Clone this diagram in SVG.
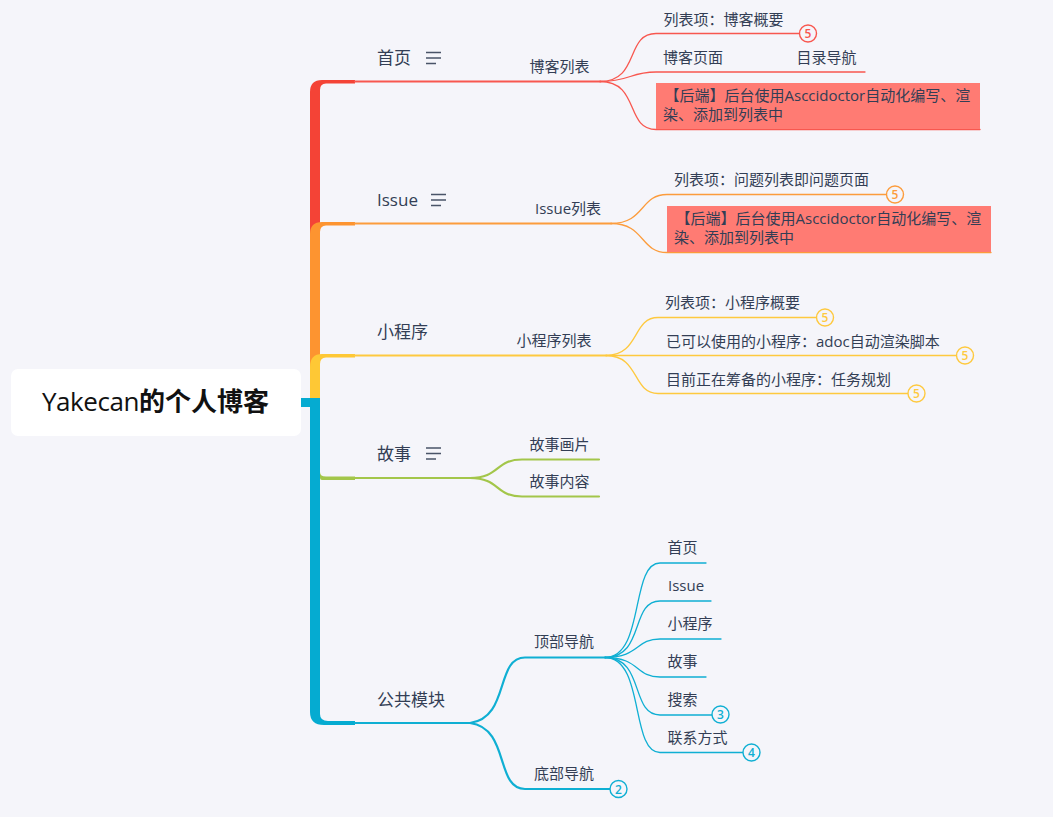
<svg xmlns="http://www.w3.org/2000/svg" width="1053" height="817" viewBox="0 0 1053 817">
<defs><style>
text{font-family:"Open Sans","Noto Sans CJK SC",sans-serif;fill:#333e55}
.l1{font-size:17px}.l2,.l3{font-size:15px}
.root{font-size:26px;fill:#111}
.line{fill:none;stroke-linecap:round}
.red{stroke:#f8574f}.org{stroke:#fc9c3c}.yel{stroke:#fec93f}.grn{stroke:#a3c64a}.blu{stroke:#0fafd3}
.w1{stroke-width:1.3}.w2{stroke-width:2.2}
.badge{fill:#f5f5fa;stroke-width:1.4}
.bt{font-size:12px;text-anchor:middle;font-weight:600}
.note{stroke:none;fill:#ff7b73}
.icon{stroke:#4a5468;stroke-width:1.6;fill:none}
</style></defs>
<rect width="1053" height="817" fill="#f5f5fa"/>
<g id="connectors">
<path fill="#f44336" d="M310 400V92Q310 80 322 80H355V83.500H326Q320 83.500 320 90V400Z"/>
<path fill="#fd9430" d="M310 400V234Q310 222 322 222H355V225.500H326Q320 225.500 320 232V400Z"/>
<path fill="#fec835" d="M310 400V367Q310 354 322 354H355V357.500H326Q320 357.500 320 364V400Z"/>
<path fill="#a3c64a" d="M320 470V472Q320 476.500 326 476.500H355V480H322Q320 480 320 478Z"/>
<path fill="#05abd1" d="M301 398H320V714Q320 721 328 721H355V725H324Q310 725 310 712V407H301Z"/>
<g class="line">
<path class="red w2" d="M355 81.500H600"/>
<path class="org w2" d="M355 223.500H611"/>
<path class="yel w2" d="M355 355.500H606"/>
<path class="grn w2" d="M355 478H470"/>
<path class="blu w2" d="M355 723H470"/>
<path class="grn w2" d="M470 478C500 478 495 459.500 522 459.500H599"/>
<path class="grn w2" d="M470 478C500 478 495 496.500 522 496.500H599"/>
<path class="blu w2" d="M470 723C510 718 495 657.500 525 657.500H605"/>
<path class="blu w2" d="M470 723C510 728 495 789 525 789H610"/>
<path class="red w1" d="M600 81.500C640 81.500 625 33.500 656 33.500H799"/>
<path class="red w1" d="M600 81.500C630 81.500 630 72 656 72H865"/>
<path class="red w1" d="M600 81.500C640 81.500 625 129.500 656 129.500H980"/>
<path class="org w1" d="M611 223.500C645 223.500 640 194.500 667 194.500H886"/>
<path class="org w1" d="M611 223.500C645 223.500 640 252.500 667 252.500H991"/>
<path class="yel w1" d="M606 355.500C640 355.500 632 317.500 658 317.500H816"/>
<path class="yel w1" d="M606 355.500H956"/>
<path class="yel w1" d="M606 355.500C640 355.500 632 393.500 658 393.500H908"/>
<path class="blu w1" d="M605 657.500C645 657.500 630 563 660 563H706"/>
<path class="blu w1" d="M605 657.500C645 657.500 630 601 660 601H711"/>
<path class="blu w1" d="M605 657.500C640 657.500 635 639 660 639H721"/>
<path class="blu w1" d="M605 657.500C640 657.500 635 677 660 677H706"/>
<path class="blu w1" d="M605 657.500C645 657.500 630 715 660 715H712"/>
<path class="blu w1" d="M605 657.500C645 657.500 630 752.500 660 752.500H743"/>
</g>
</g>
<g id="root"><rect x="11" y="369" width="290" height="67" rx="7" fill="#fff"/><text class="root" x="42" y="411"><tspan letter-spacing="-0.45">Yakecan</tspan><tspan font-weight="700">的个人博客</tspan></text></g>
<g id="n-home"><text class="l1" x="377" y="64">首页</text><path class="icon" d="M426 52.500H441M426 58H441M426 63.500H436"/></g>
<g id="n-issue"><text class="l1" x="377" y="206">Issue</text><path class="icon" d="M431 194.500H446M431 200H446M431 205.500H441"/></g>
<g id="n-mini"><text class="l1" x="377" y="338">小程序</text></g>
<g id="n-story"><text class="l1" x="377" y="460">故事</text><path class="icon" d="M426 448H441M426 453.500H441M426 459H436"/></g>
<g id="n-common"><text class="l1" x="377" y="706">公共模块</text></g>
<g id="n-bloglist"><text class="l2" x="529.500" y="72">博客列表</text></g>
<g id="n-issuelist"><text class="l2" x="535" y="214">Issue列表</text></g>
<g id="n-minilist"><text class="l2" x="516.500" y="346">小程序列表</text></g>
<g id="n-pic"><text class="l2" x="529.500" y="450">故事画片</text></g>
<g id="n-content"><text class="l2" x="529.500" y="487">故事内容</text></g>
<g id="n-topnav"><text class="l2" x="534" y="647">顶部导航</text></g>
<g id="n-botnav"><text class="l2" x="534" y="779">底部导航</text></g>
<g id="n-b1"><text class="l3" x="663.500" y="25">列表项：博客概要</text><circle class="badge red" cx="808" cy="33.500" r="8.500"/><text class="bt" x="808" y="38" style="fill:#f8574f">5</text></g>
<g id="n-b2"><text class="l3" x="663" y="63">博客页面</text></g>
<g id="n-b3"><text class="l3" x="796.500" y="63">目录导航</text></g>
<g id="n-b4"><rect class="note" x="656" y="83" width="324" height="46"/><text class="l3" x="664.500" y="101">【后端】后台使用Asccidoctor自动化编写、渲</text><text class="l3" x="663" y="120">染、添加到列表中</text></g>
<g id="n-i1"><text class="l3" x="674" y="185">列表项：问题列表即问题页面</text><circle class="badge org" cx="895" cy="194.500" r="8.500"/><text class="bt" x="895" y="199" style="fill:#fc9c3c">5</text></g>
<g id="n-i2"><rect class="note" x="667" y="206" width="324" height="46"/><text class="l3" x="675.500" y="224">【后端】后台使用Asccidoctor自动化编写、渲</text><text class="l3" x="674" y="243">染、添加到列表中</text></g>
<g id="n-m1"><text class="l3" x="665" y="308">列表项：小程序概要</text><circle class="badge yel" cx="825" cy="317.500" r="8.500"/><text class="bt" x="825" y="322" style="fill:#fec93f">5</text></g>
<g id="n-m2"><text class="l3" x="666" y="347">已可以使用的小程序：adoc自动渲染脚本</text><circle class="badge yel" cx="965" cy="355.500" r="8.500"/><text class="bt" x="965" y="360" style="fill:#fec93f">5</text></g>
<g id="n-m3"><text class="l3" x="666" y="385">目前正在筹备的小程序：任务规划</text><circle class="badge yel" cx="916.500" cy="393.500" r="8.500"/><text class="bt" x="916.500" y="398" style="fill:#fec93f">5</text></g>
<g id="n-t1"><text class="l3" x="667.500" y="553">首页</text></g>
<g id="n-t2"><text class="l3" x="668" y="591">Issue</text></g>
<g id="n-t3"><text class="l3" x="667.500" y="629">小程序</text></g>
<g id="n-t4"><text class="l3" x="667.500" y="667">故事</text></g>
<g id="n-t5"><text class="l3" x="667.500" y="705">搜索</text><circle class="badge blu" cx="720.500" cy="714.500" r="8.500"/><text class="bt" x="720.500" y="719" style="fill:#0fafd3">3</text></g>
<g id="n-t6"><text class="l3" x="667.500" y="743">联系方式</text><circle class="badge blu" cx="751.500" cy="752.500" r="8.500"/><text class="bt" x="751.500" y="757" style="fill:#0fafd3">4</text></g>
<g id="n-botbadge"><circle class="badge blu" cx="618.500" cy="789" r="8.500"/><text class="bt" x="618.500" y="793.500" style="fill:#0fafd3">2</text></g>
</svg>
